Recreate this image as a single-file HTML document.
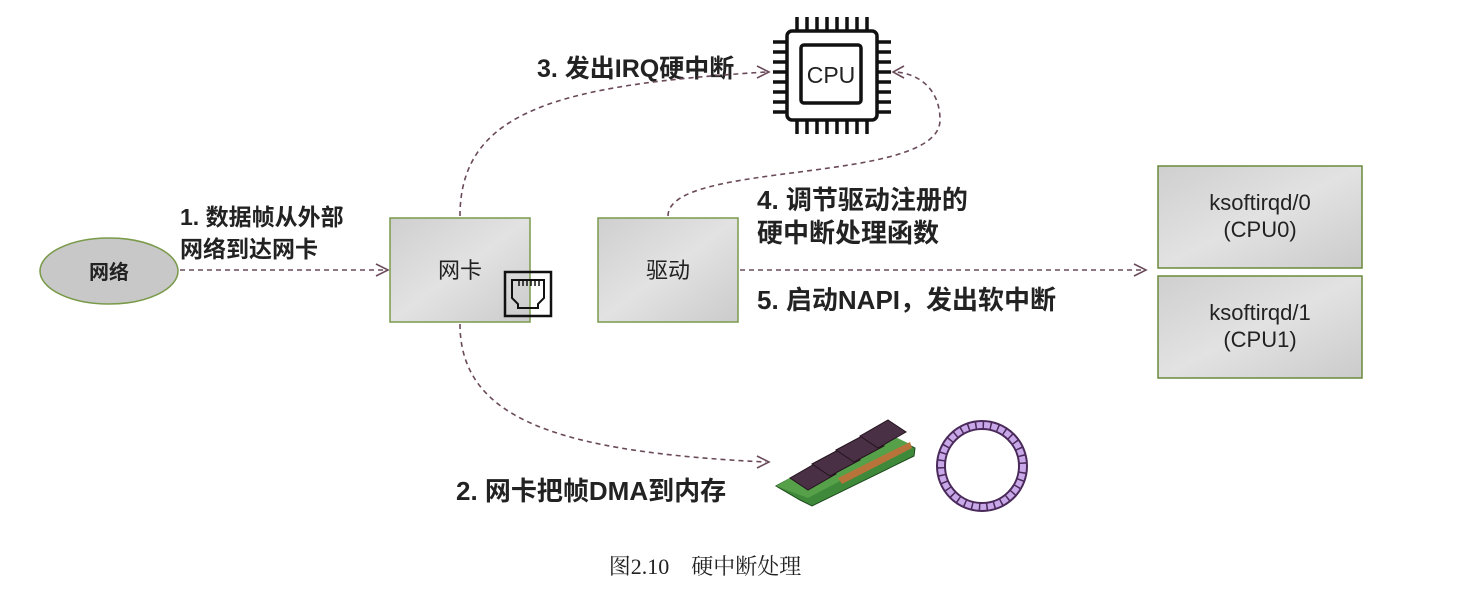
<!DOCTYPE html>
<html><head><meta charset="utf-8"><style>
html,body{margin:0;padding:0;background:#fff;}
svg{display:block;}
.t{font-family:"Liberation Sans","Noto Sans CJK SC",sans-serif;font-weight:bold;fill:#222;}
.n{font-family:"Liberation Sans","Noto Sans CJK SC",sans-serif;fill:#222;}
.d{fill:none;stroke:#6a4a5a;stroke-width:1.6;stroke-dasharray:5,4;}
.ah{fill:none;stroke:#6a4a5a;stroke-width:1.6;}
</style></head><body>
<svg width="1460" height="600" viewBox="0 0 1460 600" xmlns="http://www.w3.org/2000/svg">
<defs>
<linearGradient id="g" x1="0" y1="0" x2="1" y2="1"><stop offset="0" stop-color="#cfcfcf"/><stop offset="0.5" stop-color="#e2e2e2"/><stop offset="1" stop-color="#cbcbcb"/></linearGradient>
</defs>
<ellipse cx="109" cy="271" rx="69" ry="33" fill="#c8c8c8" stroke="#7a9a4a" stroke-width="1.5"/>
<text x="109" y="279" text-anchor="middle" class="t" font-size="20">网络</text>
<path class="d" d="M180 270 H384"/><path class="ah" d="M376 264 L388 270 L376 276"/>
<text x="180" y="225" class="t" font-size="23">1. 数据帧从外部</text>
<text x="180" y="257" class="t" font-size="23">网络到达网卡</text>
<rect x="390" y="218" width="140" height="104" fill="url(#g)" stroke="#7a9a4a" stroke-width="1.5"/>
<text x="460" y="278" text-anchor="middle" class="n" font-size="22">网卡</text>
<rect x="505" y="272" width="46" height="44" fill="none" stroke="#111" stroke-width="2.5"/>
<path d="M512 280 H544 V298 L538 304 V308 H518 V304 L512 298 Z" fill="none" stroke="#111" stroke-width="2"/>
<path d="M519 280 V286 M523 280 V286 M527 280 V286 M531 280 V286 M535 280 V286 M539 280 V286" stroke="#111" stroke-width="1.5"/>
<rect x="598" y="218" width="140" height="104" fill="url(#g)" stroke="#7a9a4a" stroke-width="1.5"/>
<text x="668" y="278" text-anchor="middle" class="n" font-size="22">驱动</text>
<path class="d" d="M740 270 H1142"/><path class="ah" d="M1134 264 L1146 270 L1134 276"/>
<text x="757" y="209" class="t" font-size="26">4. 调节驱动注册的</text>
<text x="757" y="242" class="t" font-size="26">硬中断处理函数</text>
<text x="757" y="309" class="t" font-size="26">5. 启动NAPI，发出软中断</text>
<rect x="1158" y="166" width="204" height="102" fill="url(#g)" stroke="#6a8a3a" stroke-width="1.5"/>
<text x="1260" y="210" text-anchor="middle" class="n" font-size="22">ksoftirqd/0</text>
<text x="1260" y="237" text-anchor="middle" class="n" font-size="22">(CPU0)</text>
<rect x="1158" y="276" width="204" height="102" fill="url(#g)" stroke="#6a8a3a" stroke-width="1.5"/>
<text x="1260" y="320" text-anchor="middle" class="n" font-size="22">ksoftirqd/1</text>
<text x="1260" y="347" text-anchor="middle" class="n" font-size="22">(CPU1)</text>
<g stroke="#111" stroke-width="3.5" fill="none">
<rect x="787" y="31" width="90" height="89" rx="5"/>
<rect x="801" y="45" width="60" height="58" rx="3"/>
</g>
<g stroke="#111" stroke-width="3.5">
<path d="M797 17 V31 M807 17 V31 M817 17 V31 M827 17 V31 M837 17 V31 M847 17 V31 M857 17 V31 M867 17 V31"/>
<path d="M797 120 V134 M807 120 V134 M817 120 V134 M827 120 V134 M837 120 V134 M847 120 V134 M857 120 V134 M867 120 V134"/>
<path d="M773 42 H787 M773 52 H787 M773 62 H787 M773 72 H787 M773 82 H787 M773 92 H787 M773 102 H787 M773 112 H787"/>
<path d="M877 42 H891 M877 52 H891 M877 62 H891 M877 72 H891 M877 82 H891 M877 92 H891 M877 102 H891 M877 112 H891"/>
</g>
<text x="831" y="83" text-anchor="middle" class="n" font-size="23">CPU</text>
<text x="537" y="77" class="t" font-size="25">3. 发出IRQ硬中断</text>
<path class="d" d="M460 216 C460 110 560 85 766 72"/><path class="ah" d="M757 66 L769 72 L757 78"/>
<path class="d" d="M668 216 C668 160 940 185 940 120 C940 90 920 74 896 72"/><path class="ah" d="M904 66 L893 72 L904 78"/>
<path class="d" d="M460 324 C460 420 560 452 766 462"/><path class="ah" d="M757 456 L769 462 L757 468"/>
<text x="456" y="500" class="t" font-size="26">2. 网卡把帧DMA到内存</text>
<polygon points="776,486 880,430 915,448 914,456 812,506 800,500" fill="#3f8a3a" stroke="#1f4a1f" stroke-width="1"/>
<polygon points="776,486 876,428 910,444 808,498" fill="#55a048"/>
<polygon points="838,478 910,442 912,448 842,484" fill="#b8733a"/>
<g fill="#4a3045" stroke="#24141f" stroke-width="1">
<polygon points="790,478 818,462 836,474 808,490"/>
<polygon points="812,464 842,448 860,460 830,476"/>
<polygon points="836,450 866,434 884,446 854,462"/>
<polygon points="860,436 888,420 906,432 878,448"/>
</g>
<circle cx="982" cy="466" r="41" fill="none" stroke="#4a2a5a" stroke-width="10"/>
<circle cx="982" cy="466" r="41" fill="none" stroke="#c8a8e8" stroke-width="6" stroke-dasharray="6,1.5"/>
<text x="705" y="574" text-anchor="middle" font-family="'Liberation Serif','Noto Serif CJK SC',serif" font-size="22" fill="#222" xml:space="preserve">图2.10    硬中断处理</text>
</svg>
</body></html>
